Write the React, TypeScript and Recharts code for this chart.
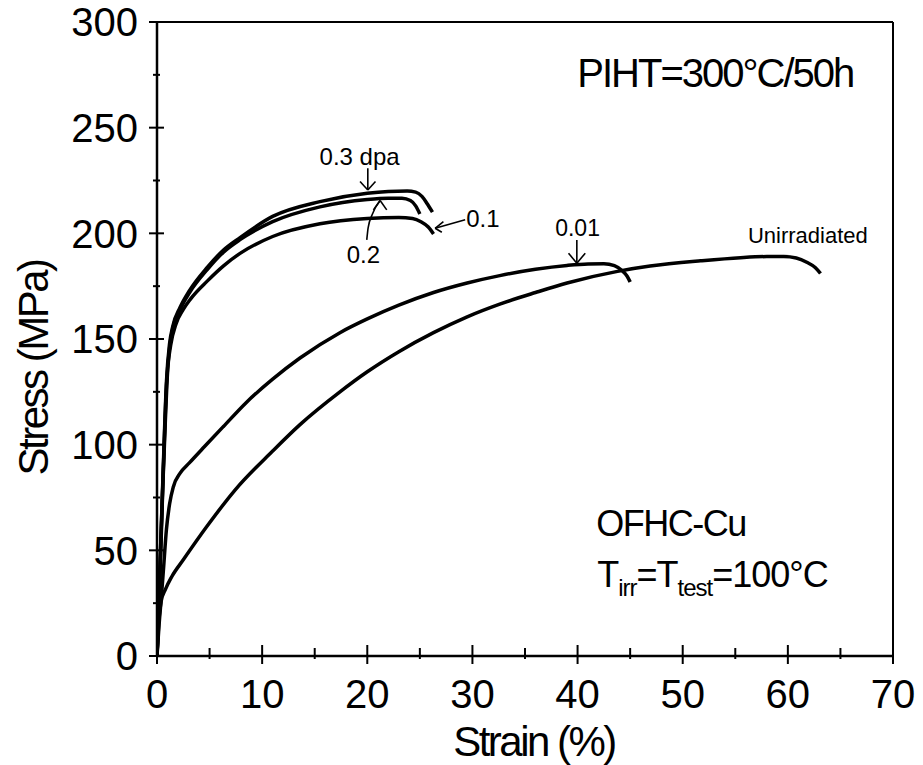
import React from 'react';
import { LineChart, Line, XAxis, YAxis, ReferenceLine, ReferenceDot } from 'recharts';

const FONT = '"Liberation Sans", Arial, sans-serif';

// strain (%) / stress (MPa)
const unirrStrain = [0, 0.2, 0.4, 0.8, 1.4, 2.5, 4.7, 7.5, 11, 13.6, 17.4, 20, 23, 26.3, 29.5, 32.6, 36, 39, 43.8, 46.9, 51.7, 55.5, 58, 59.6, 60.8, 61.8, 62.6, 63.1];
const unirrStress = [0, 18, 26, 31.5, 37.5, 45.5, 61, 79, 97, 109.5, 125, 134.5, 144, 153, 160.5, 166.5, 172, 176.5, 182, 184.5, 187, 188.5, 189, 189, 188.3, 186.3, 183.8, 181];

const dpa001Strain = [0, 0.2, 0.4, 0.6, 0.9, 1.2, 1.55, 2.2, 3.1, 4.5, 6.3, 8.5, 11, 13.6, 17.4, 20, 23, 26.3, 29.5, 32.6, 36, 39, 41, 42.5, 43.5, 44.2, 44.7, 45];
const dpa001Stress = [0, 15, 27, 40, 60, 72, 80, 86.5, 91.5, 99, 108.5, 120, 131, 141, 153, 159.5, 166, 172, 176.5, 180, 183, 184.8, 185.5, 185.6, 184.7, 182.5, 179.8, 177];

const dpa01Strain = [0, 0.3, 0.55, 0.8, 1.0, 1.3, 1.8, 2.5, 3.2, 4.8, 6.3, 7.9, 11, 15.5, 20, 23, 24.3, 25.1, 25.8, 26.3];
const dpa01Stress = [0, 40, 80, 112, 134, 147, 157, 164, 169, 177.5, 184.5, 190.5, 198.5, 204.5, 207, 207.5, 207, 205.5, 203, 199.7];

const dpa02Strain = [0, 0.3, 0.6, 0.9, 1.2, 1.5, 2.2, 3.1, 4.8, 6.3, 7.9, 11, 15.5, 20, 22, 23.3, 24.1, 24.6, 25];
const dpa02Stress = [0, 45, 88, 128, 146, 155, 164, 172, 183, 191, 197, 205.5, 212.5, 216, 216.6, 216.6, 215.5, 213, 209.2];

const dpa03Strain = [0, 0.3, 0.6, 0.9, 1.2, 1.5, 2.2, 3.1, 4.8, 6.3, 7.9, 11, 15.5, 20, 22, 23.8, 24.6, 25.2, 25.7, 26.2];
const dpa03Stress = [0, 45, 90, 130, 148, 156, 165, 173, 184, 192, 198, 208, 215, 219, 219.8, 220, 219.5, 217.5, 214, 210];

const xTicks = [0, 5, 10, 15, 20, 25, 30, 35, 40, 45, 50, 55, 60, 65, 70];
const yTicks = [0, 25, 50, 75, 100, 125, 150, 175, 200, 225, 250, 275, 300];

// annotation anchors (strain, stress)
const labels = [
  { text: '0.3 dpa', x: 19.27, y: 232.4, size: 24 },
  { text: '0.2', x: 19.63, y: 185.8, size: 24 },
  { text: '0.1', x: 31.0, y: 202.9, size: 24 },
  { text: '0.01', x: 40.0, y: 198.8, size: 23 },
  { text: 'Unirradiated', x: 61.9, y: 195.3, size: 22 },
];

const arrowSegments = [
  // 0.3 dpa
  [[20.05, 230.8], [20.05, 220.5]],
  [[19.31, 224.5], [20.05, 220.5]],
  [[20.78, 224.5], [20.05, 220.5]],
  // 0.2 head
  [[20.58, 211.1], [21.22, 215.5]],
  [[21.85, 211.1], [21.22, 215.5]],
  // 0.1
  [[29.31, 206.4], [26.45, 202.4]],
  [[27.24, 205.5], [26.45, 202.4]],
  [[27.09, 200.5], [26.45, 202.4]],
  // 0.01
  [[39.93, 196.9], [39.93, 185.8]],
  [[39.14, 190.6], [39.93, 185.8]],
  [[40.73, 190.6], [39.93, 185.8]],
];
const arrow02Strain = [19.95, 20.08, 20.46, 21.22];
const arrow02Stress = [196.9, 202.6, 208.8, 215.5];

const toPts = (xs: number[], ys: number[]) => xs.map((x, i) => ({ x, y: ys[i] }));

const series = [
  toPts(unirrStrain, unirrStress),
  toPts(dpa001Strain, dpa001Stress),
  toPts(dpa01Strain, dpa01Stress),
  toPts(dpa02Strain, dpa02Stress),
  toPts(dpa03Strain, dpa03Stress),
];

const XTick = (props: any) => {
  const { x, y, payload } = props;
  const major = payload.value % 10 === 0;
  return (
    <g>
      <line x1={x} x2={x} y1={y - (major ? 11 : 8)} y2={y + (major ? 8 : 3)} stroke="#000" strokeWidth={2} />
      {major && (
        <text x={x} y={y + 52} textAnchor="middle" fontSize={40} fontFamily={FONT} fill="#000">
          {payload.value}
        </text>
      )}
    </g>
  );
};

const YTick = (props: any) => {
  const { x, y, payload } = props;
  const major = payload.value % 50 === 0;
  return (
    <g>
      <line x1={x - (major ? 8 : 4)} x2={x + (major ? 7 : 3)} y1={y} y2={y} stroke="#000" strokeWidth={2} />
      {major && (
        <text x={x - 19} y={y} dy="0.36em" textAnchor="end" fontSize={40} fontFamily={FONT} fill="#000">
          {payload.value}
        </text>
      )}
    </g>
  );
};

const textLabel = (text: string, size: number, anchor: string, spacing = 0) => (p: any) => {
  const vb = p.viewBox;
  const cx = vb.x + vb.width / 2;
  const cy = vb.y + vb.height / 2;
  return (
    <text x={cx} y={cy} textAnchor={anchor} fontSize={size} fontFamily={FONT} fill="#000" letterSpacing={spacing}>
      {text}
    </text>
  );
};

const tLabel = (p: any) => {
  const vb = p.viewBox;
  const cx = vb.x + vb.width / 2;
  const cy = vb.y + vb.height / 2;
  return (
    <text x={cx} y={cy} textAnchor="start" fontSize={36} fontFamily={FONT} fill="#000" letterSpacing={-1}>
      <tspan>T</tspan>
      <tspan dy={9} fontSize={24}>irr</tspan>
      <tspan dy={-9}>=T</tspan>
      <tspan dy={9} fontSize={24}>test</tspan>
      <tspan dy={-9}>=100°C</tspan>
    </text>
  );
};

export default function App() {
  return (
    <div style={{ position: 'absolute', left: 0, top: 0, width: 923, height: 765, background: '#fff' }}>
      <LineChart width={923} height={765} margin={{ top: 22, right: 30, bottom: 0, left: 0 }}>
        <XAxis
          type="number"
          dataKey="x"
          domain={[0, 70]}
          ticks={xTicks}
          interval={0}
          height={109}
          tickLine={false}
          tickSize={0}
          tickMargin={0}
          tick={<XTick />}
          axisLine={{ stroke: '#000', strokeWidth: 2.5 }}
          allowDataOverflow
          label={{
            content: (p: any) => {
              const vb = p.viewBox;
              return (
                <text x={vb.x + vb.width / 2 + 9} y={vb.y + 100} textAnchor="middle" fontSize={42} fontFamily={FONT} letterSpacing={-2.5} fill="#000">
                  Strain (%)
                </text>
              );
            },
          }}
        />
        <YAxis
          type="number"
          dataKey="y"
          domain={[0, 300]}
          ticks={yTicks}
          interval={0}
          width={157}
          tickLine={false}
          tickSize={0}
          tickMargin={0}
          tick={<YTick />}
          axisLine={{ stroke: '#000', strokeWidth: 2.5 }}
          allowDataOverflow
          label={{
            content: (p: any) => {
              const vb = p.viewBox;
              const cy = vb.y + vb.height / 2 + 29;
              return (
                <text x={48} y={cy} transform={`rotate(-90, 48, ${cy})`} textAnchor="middle" fontSize={42} fontFamily={FONT} letterSpacing={-2.5} fill="#000">
                  Stress (MPa)
                </text>
              );
            },
          }}
        />
        <ReferenceLine y={300} stroke="#000" strokeWidth={2} />
        <ReferenceLine x={70} stroke="#000" strokeWidth={2} />
        {series.map((d, i) => (
          <Line
            key={i}
            data={d}
            dataKey="y"
            type="monotone"
            stroke="#000"
            strokeWidth={3.5}
            dot={false}
            isAnimationActive={false}
          />
        ))}
        <Line
          data={toPts(arrow02Strain, arrow02Stress)}
          dataKey="y"
          type="monotone"
          stroke="#000"
          strokeWidth={1.6}
          dot={false}
          isAnimationActive={false}
        />
        {arrowSegments.map((s, i) => (
          <ReferenceLine
            key={'a' + i}
            segment={[{ x: s[0][0], y: s[0][1] }, { x: s[1][0], y: s[1][1] }]}
            stroke="#000"
            strokeWidth={1.6}
          />
        ))}
        {labels.map((l, i) => (
          <ReferenceDot key={'l' + i} x={l.x} y={l.y} r={1} fill="none" stroke="none" label={textLabel(l.text, l.size, 'middle')} />
        ))}
        <ReferenceDot x={53.1} y={269.3} r={1} fill="none" stroke="none" label={textLabel('PIHT=300°C/50h', 40, 'middle', -2)} />
        <ReferenceDot x={41.77} y={56.6} r={1} fill="none" stroke="none" label={textLabel('OFHC-Cu', 36, 'start', -1.5)} />
        <ReferenceDot x={41.86} y={32.8} r={1} fill="none" stroke="none" label={tLabel} />
      </LineChart>
    </div>
  );
}
